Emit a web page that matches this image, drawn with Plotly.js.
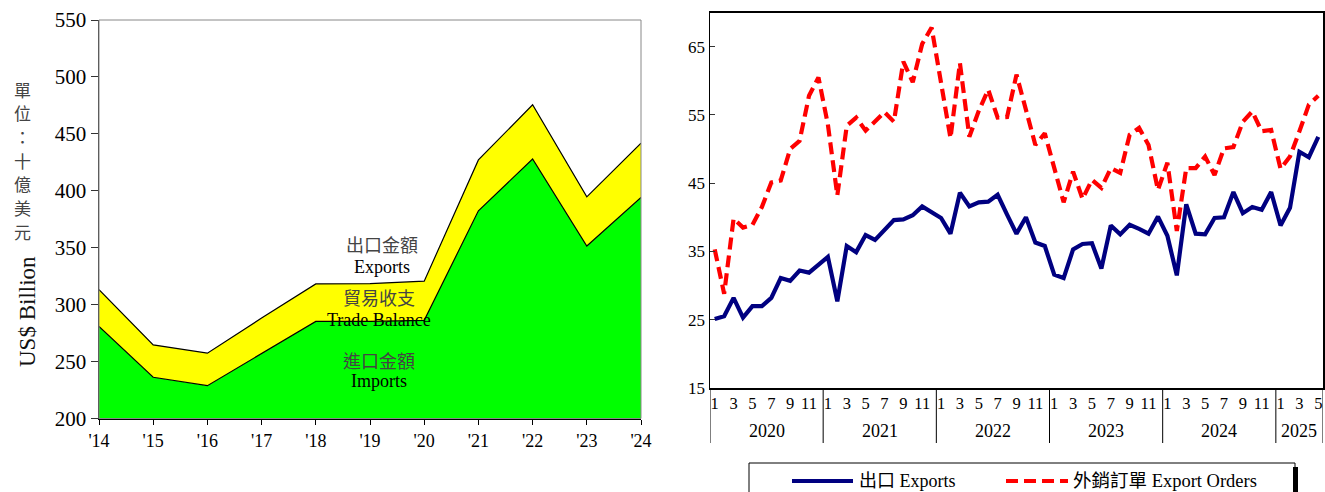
<!DOCTYPE html>
<html>
<head>
<meta charset="utf-8">
<script src="https://cdn.plot.ly/plotly-3.0.1.min.js"></script>
<style>html,body{margin:0;padding:0;background:#fff;}#chart{width:1325px;height:492px;}</style>
</head>
<body>
<div id="chart"></div>
<script>
// ---- Left chart: annual trade (US$ billion)
const yearLabels = ["'14","'15","'16","'17","'18","'19","'20","'21","'22","'23","'24"];
const annualExports = [313.2, 264.7, 257.4, 288.2, 318.2, 318.5, 320.6, 427.1, 475.6, 394.7, 441.8];
const annualImports = [280.9, 236.2, 228.8, 257.4, 285.3, 285.3, 286.2, 382.4, 427.9, 351.5, 394.1];

// ---- Right chart: monthly indices, Jan 2020 - May 2025
const monthYears = [2020, 2021, 2022, 2023, 2024, 2025];
const monthsPerYear = [12, 12, 12, 12, 12, 5];
const monthlyExports = [
  25.1, 25.5, 28.2, 25.3, 27.0, 27.0, 28.2, 31.1, 30.7, 32.2, 31.9, 33.0,
  34.2, 27.7, 35.8, 34.9, 37.4, 36.7, 38.1, 39.6, 39.7, 40.3, 41.6, 40.7,
  39.9, 37.6, 43.6, 41.6, 42.2, 42.3, 43.3, 40.4, 37.6, 40.0, 36.3, 35.8,
  31.6, 31.1, 35.3, 36.1, 36.2, 32.5, 38.8, 37.5, 38.9, 38.3, 37.6, 40.1,
  37.3, 31.5, 41.9, 37.6, 37.5, 39.9, 40.0, 43.7, 40.6, 41.5, 41.1, 43.7,
  38.8, 41.4, 49.6, 48.8, 51.8
];
const exportOrders = [
  35.3, 28.8, 39.8, 38.5, 38.9, 41.5, 45.1, 45.4, 50.0, 51.2, 57.8, 60.5,
  53.6, 43.2, 53.4, 54.6, 52.7, 54.0, 55.4, 54.0, 62.8, 59.8, 65.4, 67.8,
  59.6, 51.6, 62.6, 51.8, 55.6, 58.7, 54.6, 54.7, 60.9, 55.5, 50.6, 52.3,
  47.0, 42.2, 46.7, 42.7, 45.5, 44.3, 47.2, 46.5, 52.1, 53.1, 50.6, 44.0,
  48.0, 38.0, 47.2, 47.2, 48.9, 46.2, 50.1, 50.3, 54.0, 55.5, 52.6, 52.8,
  47.1, 48.9, 52.6, 56.5, 57.8
];
const rightYTicks = [15, 25, 35, 45, 55, 65];
const unitChars = ['單', '位', '：', '十', '億', '美', '元'];

const W = 1325, H = 492;
const px = x => x / W;
const py = y => 1 - y / H;
const SERIF = "Liberation Serif, Times New Roman, Noto Sans CJK TC, serif";
const CJK = "Noto Sans CJK TC, serif";

// build monthly categories
const cats = [], monthLabelVals = [], monthLabelText = [];
monthYears.forEach((yr, k) => {
  for (let m = 1; m <= monthsPerYear[k]; m++) {
    const c = yr + "-" + m;
    cats.push(c);
    if (m % 2 === 1) { monthLabelVals.push(c); monthLabelText.push(String(m)); }
  }
});

const traces = [
  {x: yearLabels, y: annualImports, type: 'scatter', mode: 'lines', fill: 'tozeroy',
   fillcolor: '#00FF00', line: {color: '#000', width: 1.2}, xaxis: 'x', yaxis: 'y', showlegend: false, hoverinfo: 'skip'},
  {x: yearLabels, y: annualExports, type: 'scatter', mode: 'lines', fill: 'tonexty',
   fillcolor: '#FFFF00', line: {color: '#000', width: 1.2}, xaxis: 'x', yaxis: 'y', showlegend: false, hoverinfo: 'skip'},
  {x: cats, y: monthlyExports, type: 'scatter', mode: 'lines',
   line: {color: '#000080', width: 4.2}, xaxis: 'x2', yaxis: 'y2', showlegend: false},
  {x: cats, y: exportOrders, type: 'scatter', mode: 'lines',
   line: {color: '#FF0000', width: 4.2, dash: '12px,6px'}, xaxis: 'x2', yaxis: 'y2', showlegend: false}
];

const annotations = [];
const shapes = [];

// Left chart labels inside
function twoLine(cn, en, x, y1, y2) {
  annotations.push({xref: 'paper', yref: 'paper', x: px(x), y: py(y1), text: cn, showarrow: false,
    font: {family: CJK, size: 18, color: '#444'}, xanchor: 'center', yanchor: 'middle'});
  annotations.push({xref: 'paper', yref: 'paper', x: px(x), y: py(y2), text: en, showarrow: false,
    font: {family: SERIF, size: 18, color: '#000'}, xanchor: 'center', yanchor: 'middle'});
}
twoLine('出口金額', 'Exports', 382, 244, 267);
twoLine('貿易收支', 'Trade Balance', 379, 297, 320);
twoLine('進口金額', 'Imports', 379, 360, 381);

// Left y titles
annotations.push({xref: 'paper', yref: 'paper', x: px(27), y: py(312), text: 'US$ Billion', textangle: -90,
  showarrow: false, font: {family: SERIF, size: 23, color: '#111'}, xanchor: 'center', yanchor: 'middle'});
unitChars.forEach((ch, i) => {
  annotations.push({xref: 'paper', yref: 'paper', x: px(22), y: py(89 + i * 23.7), text: ch, showarrow: false,
    font: {family: CJK, size: 17, color: '#444'}, xanchor: 'center', yanchor: 'middle'});
});

// Left frame (top/right gray)
shapes.push({type: 'rect', xref: 'paper', yref: 'paper', x0: px(99), x1: px(641), y0: py(418.5), y1: py(20),
  line: {color: '#888', width: 1}, fillcolor: 'rgba(0,0,0,0)'});

// Right x-axis: year labels and separators
let start = 0;
const bounds = [-0.5];
monthYears.forEach((yr, k) => {
  const n = monthsPerYear[k];
  annotations.push({xref: 'x2', yref: 'paper', x: start + (n - 1) / 2, y: py(431), text: String(yr), showarrow: false,
    font: {family: SERIF, size: 18, color: '#000'}, xanchor: 'center', yanchor: 'middle'});
  start += n;
  bounds.push(start - 0.5);
});
bounds.forEach(b => {
  shapes.push({type: 'line', xref: 'x2', yref: 'paper', x0: b, x1: b, y0: py(388), y1: py(443),
    line: {color: '#000', width: 1}});
});

// Manual legend
shapes.push({type: 'rect', xref: 'paper', yref: 'paper', x0: px(749), x1: px(1295), y0: py(498), y1: py(463),
  line: {color: '#000', width: 1}, fillcolor: '#fff'});
shapes.push({type: 'rect', xref: 'paper', yref: 'paper', x0: px(1293), x1: px(1298), y0: py(498), y1: py(467),
  line: {width: 0}, fillcolor: '#000'});
shapes.push({type: 'line', xref: 'paper', yref: 'paper', x0: px(792), x1: px(853), y0: py(481), y1: py(481),
  line: {color: '#000080', width: 4.2}});
shapes.push({type: 'line', xref: 'paper', yref: 'paper', x0: px(1006), x1: px(1068), y0: py(481), y1: py(481),
  line: {color: '#FF0000', width: 4.2, dash: '12px,6px'}});
annotations.push({xref: 'paper', yref: 'paper', x: px(857), y: py(481), text: '出口 Exports', showarrow: false,
  font: {family: SERIF, size: 18, color: '#000'}, xanchor: 'left', yanchor: 'middle'});
annotations.push({xref: 'paper', yref: 'paper', x: px(1071), y: py(481), text: '外銷訂單 Export Orders', showarrow: false,
  font: {family: SERIF, size: 18.5, color: '#000'}, xanchor: 'left', yanchor: 'middle'});

const layout = {
  width: W, height: H,
  margin: {l: 0, r: 0, t: 0, b: 0},
  paper_bgcolor: '#fff', plot_bgcolor: '#fff',
  showlegend: false,
  font: {family: SERIF, color: '#000'},
  xaxis: {domain: [px(99), px(641)], anchor: 'y', type: 'category', range: [0, 10],
    showgrid: false, zeroline: false, showline: true, linecolor: '#000', linewidth: 1.5,
    ticks: 'outside', ticklen: 5, tickcolor: '#000', tickfont: {family: SERIF, size: 18}},
  yaxis: {domain: [py(418.5), py(20)], anchor: 'x', range: [200, 550], dtick: 50,
    showgrid: false, zeroline: false, showline: true, linecolor: '#333', linewidth: 1.5,
    ticks: 'outside', ticklen: 7, tickcolor: '#333', tickfont: {family: SERIF, size: 21}},
  xaxis2: {domain: [px(710), px(1323)], anchor: 'y2', type: 'category', range: [-0.5, cats.length - 0.5],
    showgrid: false, zeroline: false, showline: true, mirror: true, linecolor: '#000', linewidth: 1.5,
    ticks: '', tickmode: 'array', tickvals: monthLabelVals, ticktext: monthLabelText,
    tickfont: {family: SERIF, size: 16.5}, tickangle: 0},
  yaxis2: {domain: [py(388), py(12.5)], anchor: 'x2', range: [15, 70], tickmode: 'array', tickvals: rightYTicks,
    showgrid: false, zeroline: false, showline: true, mirror: true, linecolor: '#000', linewidth: 1.5,
    ticks: 'inside', ticklen: 5, tickcolor: '#333', tickfont: {family: SERIF, size: 17}},
  annotations: annotations,
  shapes: shapes
};

Plotly.newPlot('chart', traces, layout, {staticPlot: true, displayModeBar: false});
</script>
</body>
</html>
